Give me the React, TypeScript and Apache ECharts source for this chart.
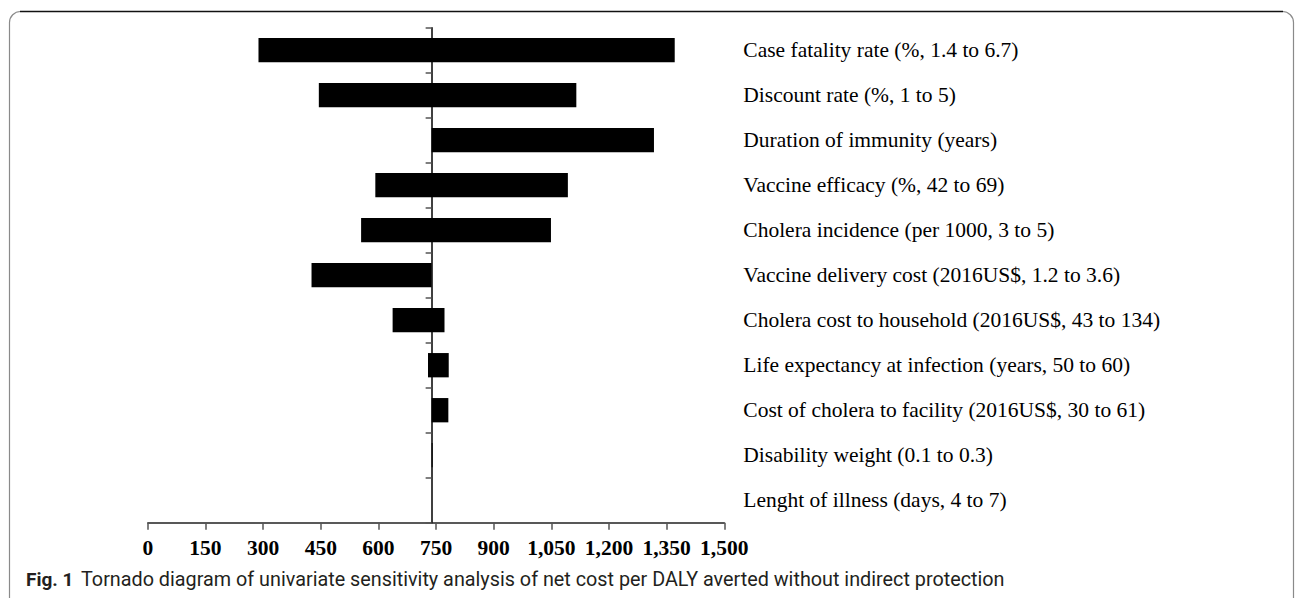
import React, { useEffect, useRef } from "react";
import * as echarts from "echarts";

const categories = [
  "Case fatality rate (%, 1.4 to 6.7)",
  "Discount rate (%, 1 to 5)",
  "Duration of immunity (years)",
  "Vaccine efficacy (%, 42 to 69)",
  "Cholera incidence (per 1000, 3 to 5)",
  "Vaccine delivery cost (2016US$, 1.2 to 3.6)",
  "Cholera cost to household (2016US$, 43 to 134)",
  "Life expectancy at infection (years, 50 to 60)",
  "Cost of cholera to facility (2016US$, 30 to 61)",
  "Disability weight (0.1 to 0.3)",
  "Lenght of illness (days, 4 to 7)",
];
const baseValue = 738.5;
const lowValues = [288, 445, 738.5, 592, 555, 426, 637, 729, 738.5, 738.5, 738.5];
const highValues = [1371, 1115, 1317, 1093, 1049, 738.5, 772, 783, 782, 741, 738.5];
const xMin = 0;
const xMax = 1500;
const xInterval = 150;
const captionLead = "Fig. 1";
const captionText =
  "Tornado diagram of univariate sensitivity analysis of net cost per DALY averted without indirect protection";

const W = 1295;
const H = 598;
const GRID_LEFT = 147.8;
const GRID_RIGHT = 570.7;
const GRID_TOP = 27.7;
const GRID_BOTTOM = 75.3;
const SERIF = '"Liberation Serif", "Times New Roman", serif';

export default function App() {
  const ref = useRef<HTMLDivElement>(null);
  useEffect(() => {
    if (!ref.current) return;
    const chart = echarts.init(ref.current, null, { renderer: "svg" });
    const gridWidth = W - GRID_LEFT - GRID_RIGHT;
    const axisOffset = -((baseValue - xMin) / (xMax - xMin)) * gridWidth;
    chart.setOption({
      animation: false,
      backgroundColor: "#ffffff",
      grid: { left: GRID_LEFT, right: GRID_RIGHT, top: GRID_TOP, bottom: GRID_BOTTOM, containLabel: false },
      xAxis: {
        type: "value",
        min: xMin,
        max: xMax,
        interval: xInterval,
        splitLine: { show: false },
        axisLine: { show: true, lineStyle: { color: "#222", width: 1.5 } },
        axisTick: { show: true, length: 7, lineStyle: { color: "#555", width: 1.5 } },
        axisLabel: {
          margin: 14,
          color: "#000",
          fontFamily: SERIF,
          fontWeight: "bold",
          fontSize: 21.5,
          formatter: (v: number) => v.toLocaleString("en-US"),
        },
      },
      yAxis: [
        {
          type: "category",
          data: categories,
          inverse: true,
          position: "left",
          offset: axisOffset,
          axisLine: { show: true, onZero: false, lineStyle: { color: "#000", width: 1.5 } },
          axisTick: { show: true, length: 6, lineStyle: { color: "#555", width: 1.5 } },
          axisLabel: { show: false },
          splitLine: { show: false },
        },
        {
          type: "category",
          data: categories,
          inverse: true,
          position: "right",
          axisLine: { show: false },
          axisTick: { show: false },
          axisLabel: { show: true, margin: 19, color: "#000", fontFamily: SERIF, fontSize: 21.5 },
          splitLine: { show: false },
        },
      ],
      series: [
        {
          type: "bar",
          stack: "t",
          yAxisIndex: 0,
          data: lowValues,
          itemStyle: { color: "transparent" },
          barWidth: "54%",
          silent: true,
        },
        {
          type: "bar",
          stack: "t",
          yAxisIndex: 0,
          data: highValues.map((h, i) => h - lowValues[i]),
          itemStyle: { color: "#000" },
          barWidth: "54%",
        },
      ],
      graphic: [
        {
          type: "rect",
          shape: { x: 9.5, y: 11.5, width: 1284, height: 640, r: 11 },
          style: { fill: "none", stroke: "#8a8a8a", lineWidth: 1.2 },
          z: 1,
        },
        {
          type: "line",
          shape: { x1: 20, y1: 11.5, x2: 1283, y2: 11.5 },
          style: { stroke: "#111", lineWidth: 1.5 },
          z: 2,
        },
        {
          type: "text",
          x: 26,
          y: 579,
          style: {
            text: captionLead,
            font: 'bold 19px Roboto, "Noto Sans", sans-serif',
            fill: "#231f20",
            verticalAlign: "middle",
          },
        },
        {
          type: "text",
          x: 81,
          y: 579,
          style: {
            text: captionText,
            font: '19.8px Roboto, "Noto Sans", sans-serif',
            fill: "#231f20",
            verticalAlign: "middle",
          },
        },
      ],
    });
    return () => chart.dispose();
  }, []);
  return (
    <div
      ref={ref}
      style={{ position: "absolute", left: 0, top: 0, width: W, height: H, background: "#fff" }}
    />
  );
}
